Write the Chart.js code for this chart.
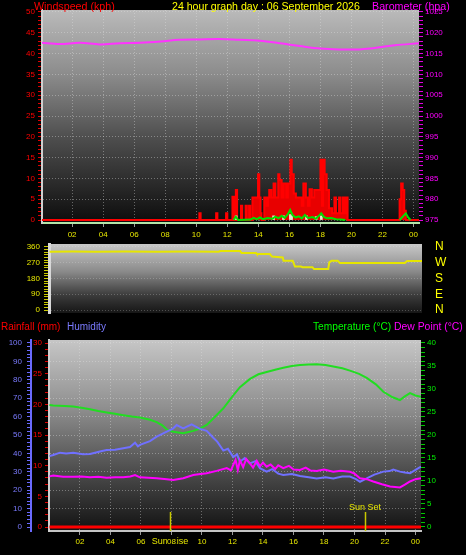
<!DOCTYPE html>
<html><head><meta charset="utf-8">
<script src="https://cdn.jsdelivr.net/npm/chart.js@4/dist/chart.umd.min.js"></script>
<style>
html,body{margin:0;padding:0;background:#000;width:466px;height:555px;overflow:hidden;}
body{position:relative;font-family:"Liberation Sans",Arial,sans-serif;}
canvas{position:absolute;left:0;}
.t{position:absolute;white-space:nowrap;line-height:12px;}
</style></head><body>
<canvas id="c1" width="466" height="242" style="top:0"></canvas>
<canvas id="c2" width="466" height="80" style="top:240px"></canvas>
<canvas id="c3" width="466" height="235" style="top:320px"></canvas>
<div class="t" style="left:34px;top:0px;font-size:10.7px;color:#ff0000">Windspeed (kph)</div>
<div class="t" style="left:172px;top:0px;font-size:10.6px;color:#ffff00">24 hour graph day : 06 September 2026</div>
<div class="t" style="left:372px;top:0px;font-size:10.7px;color:#ff00ff">Barometer (hpa)</div>
<div class="t" style="left:1px;top:321px;font-size:10px;color:#ff0000">Rainfall (mm)</div>
<div class="t" style="left:67px;top:321px;font-size:10px;color:#7b7bff">Humidity</div>
<div class="t" style="left:313px;top:321px;font-size:10.2px;color:#00ff00">Temperature (°C)</div>
<div class="t" style="left:394px;top:321px;font-size:10.4px;color:#ff00ff">Dew Point (°C)</div>
<script>
// ---- shared axis labels ----
const hourTicks  = [2,4,6,8,10,12,14,16,18,20,22,24];
const hourLabels = ['02','04','06','08','10','12','14','16','18','20','22','00'];

// ---- panel 1: wind / barometer ----
const baroHours  = [0, 1.2, 2.5, 3.8, 5.1, 6.4, 7.7, 8.9, 10.2, 11.5, 12.8, 14.1, 15.4, 16.7, 18.0, 19.2, 20.5, 21.2, 21.8, 22.8, 24.35];
const baroValues = [1017.6, 1017.3, 1017.6, 1017.2, 1017.5, 1017.6, 1017.9, 1018.3, 1018.4, 1018.5, 1018.3, 1018.1, 1017.5, 1016.8, 1016.2, 1016.0, 1016.0, 1016.2, 1016.5, 1017.0, 1017.5];

const gustHours = [
  0, 10.20, 10.28, 11.28, 11.36, 11.92, 12.00, 12.33, 12.42, 12.55,
  12.63, 12.88, 12.96, 13.18, 13.26, 13.40, 13.48, 13.62, 13.98, 14.06,
  14.14, 14.20, 14.38, 14.52, 14.62, 14.70, 14.84, 14.98, 15.10, 15.28,
  15.36, 15.50, 15.62, 15.80, 15.90, 16.06, 16.15, 16.28, 16.42, 16.62,
  16.80, 16.90, 17.06, 17.20, 17.30, 17.45, 17.60, 18.00, 18.10, 18.17,
  18.27, 18.40, 18.55, 18.75, 18.90, 19.00, 19.20, 19.30, 19.45, 19.55,
  19.62, 19.75, 23.10, 23.20, 23.30, 23.40, 23.50, 24.35];
const gustValues = [
  0, 1.6, 0, 1.6, 0, 1.6, 0, 5.6, 0, 7.2,
  0, 3.4, 0, 3.4, 0, 3.4, 0, 5.4, 11, 5.4,
  1.6, 0, 5.4, 3.4, 5.4, 7.2, 5.4, 8.8, 5.4, 11,
  9.6, 5.4, 8.8, 5.4, 8.8, 14.5, 11, 6.4, 5.4, 5.4,
  3.4, 8.8, 5.4, 3.4, 7.4, 5.4, 7.2, 14.5, 3.4, 14.5,
  11, 7.2, 2.8, 1.6, 5.4, 1.6, 5.4, 1.6, 5.4, 1.6,
  5.4, 0, 5.0, 8.8, 7.2, 2.2, 0, 0];

const avgHours  = [0, 12.40, 12.55, 12.70, 13.50, 13.70, 13.90, 14.10, 14.30, 14.60, 14.90, 15.10, 15.30, 15.50, 15.70, 15.90, 16.05, 16.20, 16.40, 16.60, 16.80, 17.00, 17.20, 17.50, 17.70, 17.90, 18.05, 18.20, 18.40, 18.70, 19.00, 19.30, 19.60, 23.10, 23.35, 23.50, 23.65, 23.80, 24.35];
const avgValues = [0, 0, 0.8, 0, 0.1, 0.5, 0.2, 0.6, 0.2, 0.5, 0.3, 0.8, 0.4, 1.0, 0.5, 1.4, 2.4, 1.2, 0.6, 0.9, 0.4, 1.2, 0.5, 0.7, 0.3, 1.0, 1.6, 0.8, 0.4, 0.5, 0.2, 0.1, 0, 0, 1.0, 1.6, 0.6, 0, 0];

const paleBarHours  = [12.57, 14.98, 15.62, 16.06, 16.14, 17.10, 17.72, 18.06];
const paleBarValues = [1.0, 1.0, 1.0, 1.3, 1.2, 1.0, 0.8, 1.0];

// ---- panel 2: wind direction ----
const dirHours  = [0, 1.5, 3.0, 5.0, 7.0, 9.0, 11.1, 11.2, 12.5, 12.6, 13.55, 13.6, 14.45, 14.6, 15.3, 15.35, 15.95, 16.1, 16.5, 16.6, 17.25, 17.35, 18.28, 18.35, 18.5, 18.9, 19.05, 21.0, 23.3, 23.45, 24.43];
const dirValues = [333, 334, 333, 334, 333, 334, 333, 337, 337, 326, 326, 320, 320, 305, 300, 282, 282, 248, 248, 244, 244, 234, 234, 272, 282, 282, 268, 268, 268, 280, 280];
const compassTicks  = [0, 90, 180, 270, 360];
const compassLabels = ['N', 'E', 'S', 'W', 'N'];

// ---- panel 3: rain / humidity / temperature / dew point ----
const tempHours  = [0, 0.25, 1.0, 1.56, 2.1, 2.66, 3.2, 3.75, 4.3, 4.84, 5.4, 5.93, 6.59, 7.03, 7.4, 7.69, 8.12, 8.77, 9.43, 9.87, 10.31, 10.74, 11.4, 12.05, 12.49, 13.15, 13.7, 14.24, 14.8, 15.33, 15.9, 16.43, 17.0, 17.52, 18.1, 18.61, 19.2, 19.7, 20.3, 20.8, 21.4, 21.89, 22.5, 22.98, 23.3, 23.64, 24.0, 24.36];
const tempValues = [26.5, 26.4, 26.3, 26.2, 25.9, 25.6, 25.2, 24.9, 24.6, 24.3, 24.0, 23.8, 23.3, 22.8, 22.1, 21.2, 20.7, 20.4, 20.9, 21.4, 22.2, 23.6, 25.8, 28.6, 30.4, 32.2, 33.2, 33.7, 34.2, 34.6, 35.0, 35.2, 35.3, 35.4, 35.2, 34.9, 34.5, 34.0, 33.3, 32.4, 31.0, 29.4, 28.2, 27.6, 28.4, 29.1, 28.6, 28.3];

const humHours  = [0, 0.25, 0.69, 1.1, 1.56, 2.2, 2.66, 3.31, 3.75, 4.3, 4.84, 5.28, 5.61, 5.8, 5.93, 6.59, 7.03, 7.69, 8.1, 8.34, 8.77, 9.32, 9.87, 10.31, 10.74, 11.0, 11.4, 11.7, 12.05, 12.3, 12.49, 12.8, 13.15, 13.5, 13.8, 14.24, 14.6, 15.0, 15.33, 15.9, 16.43, 17.0, 17.52, 18.1, 18.61, 19.2, 19.7, 20.1, 20.36, 20.8, 21.3, 21.89, 22.3, 22.54, 22.98, 23.3, 23.64, 24.0, 24.36];
const humValues = [38.5, 39.1, 40.4, 40.0, 40.4, 39.5, 39.7, 41.0, 41.8, 42.0, 42.8, 43.5, 45.8, 43.8, 44.6, 46.7, 49.1, 51.8, 53.5, 55.4, 53.6, 55.8, 53.3, 52.3, 48.5, 46.4, 41.5, 42.5, 38.0, 39.5, 35.5, 37.5, 34.6, 35.8, 32.0, 30.1, 31.5, 29.0, 28.3, 28.8, 27.7, 27.0, 26.4, 27.0, 26.4, 27.4, 27.4, 26.0, 24.6, 26.4, 28.5, 30.1, 30.4, 31.2, 30.1, 29.6, 29.2, 31.0, 32.8];

const dewHours  = [0, 0.25, 0.9, 1.56, 2.1, 2.66, 3.2, 3.75, 4.3, 4.84, 5.3, 5.61, 5.93, 6.5, 7.03, 7.69, 8.12, 8.77, 9.43, 9.9, 10.31, 10.96, 11.62, 11.9, 12.05, 12.2, 12.35, 12.49, 12.7, 12.9, 13.15, 13.35, 13.59, 13.8, 14.0, 14.24, 14.5, 14.8, 15.0, 15.33, 15.7, 16.0, 16.43, 16.8, 17.1, 17.52, 18.0, 18.61, 19.1, 19.7, 20.0, 20.36, 20.8, 21.23, 21.8, 22.33, 22.98, 23.3, 23.64, 24.0, 24.36];
const dewValues = [11.0, 11.2, 10.9, 10.9, 11.0, 10.8, 10.9, 10.7, 10.8, 10.8, 11.0, 11.3, 10.8, 10.7, 10.6, 10.4, 10.2, 10.6, 11.3, 11.5, 11.7, 12.2, 12.8, 12.3, 13.5, 14.6, 12.4, 14.5, 13.0, 14.8, 13.8, 12.9, 14.4, 13.2, 14.0, 13.1, 13.6, 12.6, 13.4, 12.8, 13.3, 12.5, 12.4, 12.9, 12.3, 12.2, 12.5, 12.0, 12.2, 12.0, 11.6, 10.6, 10.4, 9.9, 9.3, 8.8, 8.6, 9.2, 9.9, 10.4, 10.6];

const rainHours  = [0, 24.36];
const rainValues = [0, 0];

const sunRiseHour = 7.9;
const sunSetHour  = 20.69;

// ---- helpers ----
function pts(h, v) { return h.map((x, i) => ({x: x, y: v[i]})); }
function range(a, b, s) { const r = []; for (let v = a; v <= b + 1e-9; v += s) r.push(Math.round(v * 1000) / 1000); return r; }
function setTicks(list) { return s => { s.ticks = list.map(v => ({value: v})); }; }
function fixW(w) { return s => { s.width = w; s.paddingTop = 0; s.paddingBottom = 0; }; }
function fixH(h) { return s => { s.height = h; s.paddingLeft = 0; s.paddingRight = 0; }; }
function majorGrid(step, col) { return c => (c.tick && Math.abs(c.tick.value % step) < 1e-6) ? col : 'rgba(0,0,0,0)'; }
function bgPlugin(stops) {
  return { id: 'bg', beforeDraw(chart) {
    const {ctx, chartArea: a} = chart;
    const g = ctx.createLinearGradient(0, a.top, 0, a.bottom);
    stops.forEach(s => g.addColorStop(s[0], s[1]));
    ctx.save(); ctx.fillStyle = g; ctx.fillRect(a.left, a.top, a.right - a.left, a.bottom - a.top); ctx.restore();
  }};
}

Chart.defaults.font.family = '"Liberation Sans", Arial, sans-serif';
Chart.defaults.animation = false;

const GRID = 'rgba(230,230,230,0.38)';
const baseOpts = {
  responsive: false, animation: false, events: [],
  plugins: {legend: {display: false}, tooltip: {enabled: false}}
};

// ---- chart 1 ----
new Chart(document.getElementById('c1'), {
  type: 'line',
  data: { datasets: [
    { data: pts(avgHours, avgValues), yAxisID: 'yw', borderColor: '#00e000', borderWidth: 2, pointRadius: 0,
      segment: { borderColor: c => (c.p0.parsed.y === 0 && c.p1.parsed.y === 0) ? 'rgba(0,0,0,0)' : '#00e000' } },
    { type: 'bar', data: pts(paleBarHours, paleBarValues), yAxisID: 'yw', backgroundColor: '#e4e8cc', barThickness: 2 },
    { data: pts(gustHours, gustValues), yAxisID: 'yw', stepped: 'before', fill: 'origin',
      borderColor: '#ff0000', backgroundColor: '#e80000', borderWidth: 2, pointRadius: 0 },
    { data: pts(baroHours, baroValues), yAxisID: 'yb', borderColor: '#ff33ff', borderWidth: 2, pointRadius: 0, tension: 0.35 }
  ]},
  options: Object.assign({}, baseOpts, {
    layout: { padding: { top: 10, left: 0, right: 0, bottom: 0 } },
    scales: {
      x: { type: 'linear', min: 0.06, max: 24.35, offset: false,
        afterFit: fixH(19), afterBuildTicks: setTicks(hourTicks),
        ticks: { color: '#e6e600', font: {size: 8}, autoSkip: false, maxRotation: 0, padding: 3, callback: (v, i) => hourLabels[i] },
        grid: { offset: false, color: GRID, tickColor: '#9a9a9a', tickLength: 4 },
        border: { display: true, color: '#b4e4a8', width: 2, dash: [1, 2] } },
      yw: { position: 'left', min: -0.72, max: 50.48,
        afterFit: fixW(42), afterBuildTicks: setTicks(range(0, 50, 1)),
        ticks: { color: '#ff0000', font: {size: 8}, autoSkip: false, padding: 3, callback: v => v % 5 === 0 ? String(v) : '' },
        grid: { color: majorGrid(5, GRID), tickColor: '#e00000', tickLength: 4 },
        border: { display: true, color: '#d0d0d0', width: 2, dash: [1, 2] } },
      yb: { position: 'right', min: 974.28, max: 1025.48,
        afterFit: fixW(47), afterBuildTicks: setTicks(range(975, 1025, 1)),
        ticks: { color: '#ff00ff', font: {size: 8}, autoSkip: false, padding: 2, callback: v => v % 5 === 0 ? String(v) : '' },
        grid: { drawOnChartArea: false, tickColor: '#e000e0', tickLength: 4 },
        border: { display: false } }
    }
  }),
  plugins: [bgPlugin([[0, '#bababa'], [0.3, '#8c8c8c'], [0.6, '#4e4e4e'], [1, '#0c0c0c']])]
});

// ---- chart 2 ----
new Chart(document.getElementById('c2'), {
  type: 'line',
  data: { datasets: [
    { data: pts(dirHours, dirValues), yAxisID: 'y', borderColor: '#e6e600', borderWidth: 2, pointRadius: 0 }
  ]},
  options: Object.assign({}, baseOpts, {
    layout: { padding: { top: 4, left: 0, right: 0, bottom: 7 } },
    scales: {
      x: { type: 'linear', min: -0.03, max: 24.43, display: false },
      y: { position: 'left', min: -17, max: 377,
        afterFit: fixW(49), afterBuildTicks: setTicks(range(0, 360, 15)),
        ticks: { color: '#e6e600', font: {size: 8}, autoSkip: false, padding: 4, callback: v => v % 90 === 0 ? String(v) : '' },
        grid: { color: majorGrid(90, 'rgba(230,230,230,0.25)'), tickColor: '#c8c800', tickLength: 5 },
        border: { display: true, color: '#d8d8d8', width: 3, dash: [1, 2] } },
      yr: { position: 'right', min: -17, max: 377,
        afterFit: fixW(44), afterBuildTicks: setTicks(compassTicks),
        ticks: { color: '#ffff00', font: {size: 12}, autoSkip: false, padding: 0, callback: (v, i) => compassLabels[i] },
        grid: { display: true, drawTicks: true, tickLength: 13, tickColor: 'rgba(0,0,0,0)', drawOnChartArea: false },
        border: { display: false } }
    }
  }),
  plugins: [bgPlugin([[0, '#c8c8c8'], [0.4, '#8a8a8a'], [0.75, '#3a3a3a'], [1, '#161616']])]
});

// ---- chart 3 ----
const sunPlugin = {
  id: 'sun',
  beforeDraw(chart) {
    const {ctx, chartArea: a, scales: {x}} = chart;
    ctx.save();
    ctx.fillStyle = '#e6e600';
    ctx.font = '9px "Liberation Sans", Arial, sans-serif';
    ctx.textAlign = 'center'; ctx.textBaseline = 'middle';
    ctx.fillText('Sun Rise', x.getPixelForValue(sunRiseHour), a.bottom + 11);
    ctx.restore();
  },
  afterDatasetsDraw(chart) {
    const {ctx, chartArea: a, scales: {x}} = chart;
    ctx.save();
    ctx.strokeStyle = '#c8c800'; ctx.lineWidth = 1.5;
    [sunRiseHour, sunSetHour].forEach(h => {
      const px = Math.round(x.getPixelForValue(h)) + 0.5;
      ctx.beginPath(); ctx.moveTo(px, a.bottom - 19); ctx.lineTo(px, a.bottom); ctx.stroke();
    });
    ctx.fillStyle = '#e6e600';
    ctx.font = '9px "Liberation Sans", Arial, sans-serif';
    ctx.textAlign = 'center'; ctx.textBaseline = 'alphabetic';
    ctx.fillText('Sun Set', x.getPixelForValue(sunSetHour), a.bottom - 21);
    ctx.restore();
  }
};

new Chart(document.getElementById('c3'), {
  type: 'line',
  data: { datasets: [
    { data: pts(rainHours, rainValues), yAxisID: 'yr', borderColor: '#ff0000', borderWidth: 3, pointRadius: 0 },
    { data: pts(dewHours, dewValues), yAxisID: 'yt', borderColor: '#ff00ff', borderWidth: 2, pointRadius: 0 },
    { data: pts(humHours, humValues), yAxisID: 'yh', borderColor: '#7070ff', borderWidth: 2, pointRadius: 0 },
    { data: pts(tempHours, tempValues), yAxisID: 'yt', borderColor: '#22dd22', borderWidth: 2, pointRadius: 0 }
  ]},
  options: Object.assign({}, baseOpts, {
    layout: { padding: { top: 20, left: 0, right: 0, bottom: 0 } },
    scales: {
      x: { type: 'linear', min: -0.03, max: 24.36, offset: false,
        afterFit: fixH(24), afterBuildTicks: setTicks(hourTicks),
        ticks: { color: '#e6e600', font: {size: 8}, autoSkip: false, maxRotation: 0, padding: 2,
          showLabelBackdrop: true, backdropColor: '#000000', backdropPadding: 0, callback: (v, i) => hourLabels[i] },
        grid: { offset: false, color: GRID, tickColor: '#9a9a9a', tickLength: 4 },
        border: { display: true, color: '#c4c4c4', width: 2, dash: [1, 2] } },
      yr: { position: 'left', weight: 0, min: -0.652, max: 30.49,
        afterFit: fixW(18), afterBuildTicks: setTicks(range(0, 30, 1)),
        ticks: { color: '#ff0000', font: {size: 8}, autoSkip: false, padding: 3, callback: v => v % 5 === 0 ? String(v) : '' },
        grid: { drawOnChartArea: false, tickColor: '#e00000', tickLength: 4 },
        border: { display: true, color: '#d0d0d0', width: 2 } },
      yh: { position: 'left', weight: 1, min: -2.17, max: 101.63,
        afterFit: fixW(31), afterBuildTicks: setTicks(range(0, 100, 2)),
        ticks: { color: '#7b7bff', font: {size: 8}, autoSkip: false, padding: 5, callback: v => v % 10 === 0 ? String(v) : '' },
        grid: { color: majorGrid(10, GRID), tickColor: '#6a6aff', tickLength: 4 },
        border: { display: true, color: '#6a6aff', width: 2, dash: [1, 2] } },
      yt: { position: 'right', min: -0.87, max: 40.65,
        afterFit: fixW(45), afterBuildTicks: setTicks(range(0, 40, 1)),
        ticks: { color: '#00ee00', font: {size: 8}, autoSkip: false, padding: 2, callback: v => v % 5 === 0 ? String(v) : '' },
        grid: { drawOnChartArea: false, tickColor: '#00c800', tickLength: 4 },
        border: { display: false } }
    }
  }),
  plugins: [bgPlugin([[0, '#c6c6c6'], [0.35, '#909090'], [0.7, '#4a4a4a'], [1, '#121212']]), sunPlugin]
});
</script>
</body></html>
